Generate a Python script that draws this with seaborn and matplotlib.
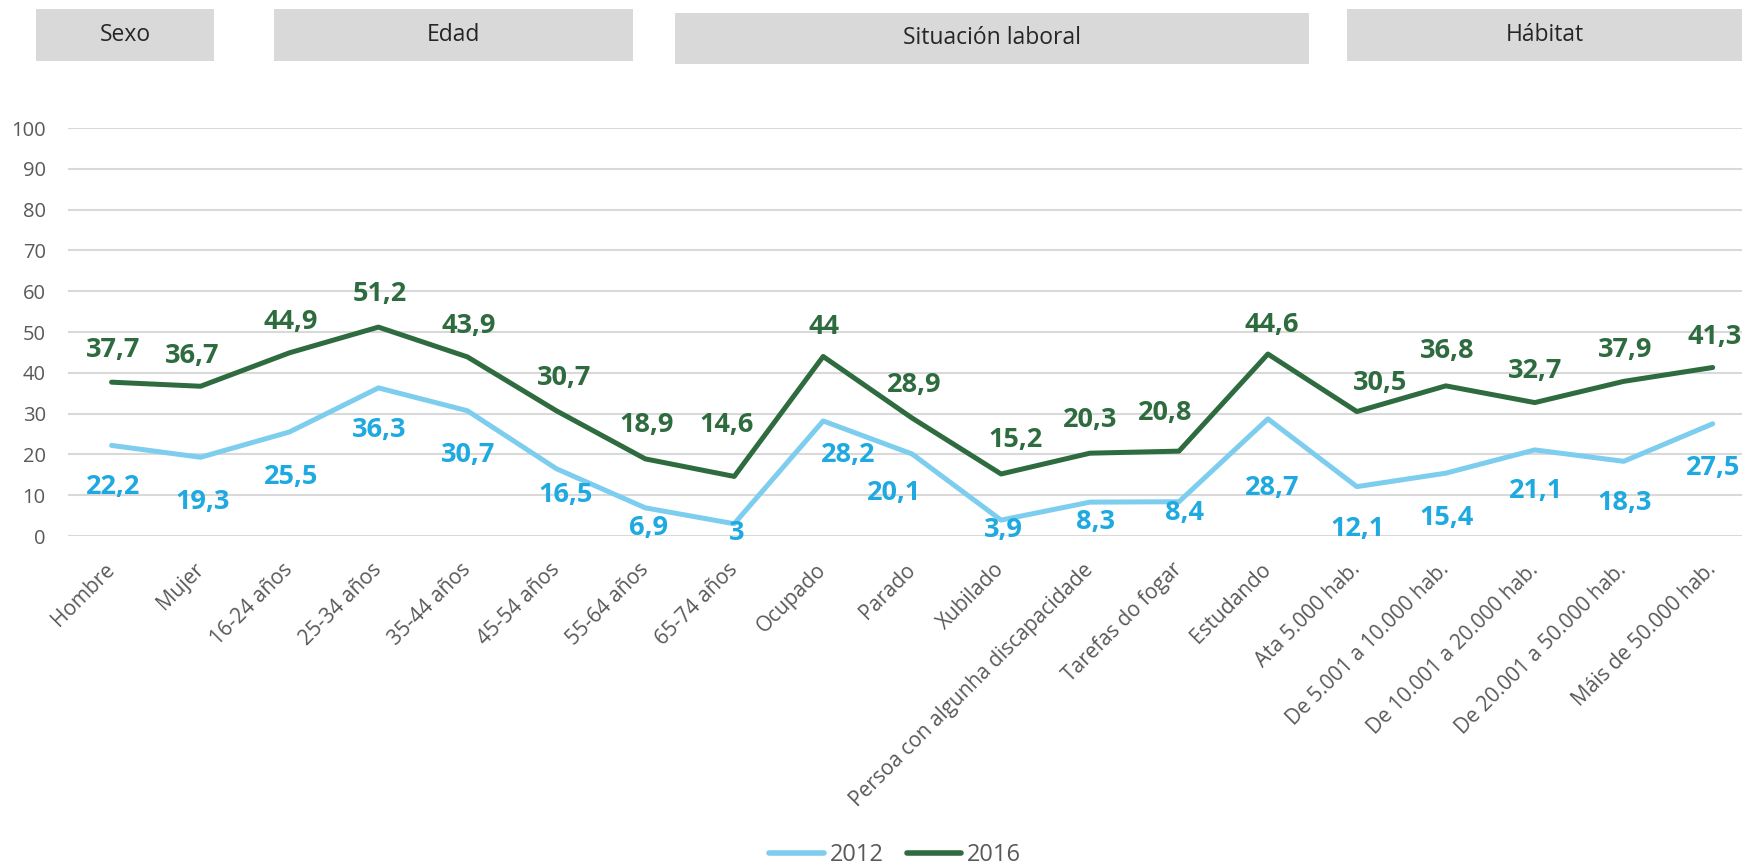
import matplotlib
matplotlib.use("Agg")
import matplotlib.pyplot as plt
from matplotlib.patches import Rectangle
from matplotlib.lines import Line2D
import pandas as pd
import seaborn as sns

# categories on the x axis
categories = ["Hombre", "Mujer", "16-24 años", "25-34 años", "35-44 años",
              "45-54 años", "55-64 años", "65-74 años", "Ocupado", "Parado",
              "Xubilado", "Persoa con algunha discapacidade", "Tarefas do fogar",
              "Estudando", "Ata 5.000 hab.", "De 5.001 a 10.000 hab.",
              "De 10.001 a 20.000 hab.", "De 20.001 a 50.000 hab.",
              "Máis de 50.000 hab."]

values_2012 = [22.2, 19.3, 25.5, 36.3, 30.7, 16.5, 6.9, 3, 28.2, 20.1,
               3.9, 8.3, 8.4, 28.7, 12.1, 15.4, 21.1, 18.3, 27.5]
values_2016 = [37.7, 36.7, 44.9, 51.2, 43.9, 30.7, 18.9, 14.6, 44, 28.9,
               15.2, 20.3, 20.8, 44.6, 30.5, 36.8, 32.7, 37.9, 41.3]

group_names = ["Sexo", "Edad", "Situación laboral", "Hábitat"]

# header boxes in pixels: left, right, top, bottom
group_boxes = [(36, 214, 9, 61), (274, 633, 9, 61),
               (675, 1309, 13, 64), (1347, 1742, 9, 61)]

# data label nudges in pixels (dx, dy), dy > 0 means downwards
nudge_2012 = [(2, 42), (2, 45), (2, 45), (1, 42), (1, 44), (9, 26), (3, 20),
              (2, 9), (25, 34), (-18, 39), (2, 10), (5, 20), (6, 11), (4, 69),
              (1, 42), (1, 45), (1, 41), (1, 42), (0, 44)]
nudge_2016 = [(2, -32), (-8, -30), (1, -31), (1, -33), (1, -31), (8, -33),
              (1, -34), (-8, -51), (1, -29), (2, -33), (14, -34), (0, -33),
              (-14, -38), (4, -29), (23, -29), (1, -35), (0, -32), (1, -31),
              (2, -30)]

c2012_line = "#7dcdef"
c2012_text = "#1ea9e0"
c2016 = "#2e6b3f"
grey = "#595959"

W, H = 1742, 867

sns.set_theme(style="white")
plt.rcParams["font.family"] = ["Open Sans", "DejaVu Sans"]

df = pd.DataFrame({
    "categoria": categories * 2,
    "valor": values_2012 + values_2016,
    "ano": ["2012"] * len(categories) + ["2016"] * len(categories),
})

fig = plt.figure(figsize=(W / 100, H / 100), dpi=100)
ax = fig.add_axes([68 / W, 1 - 536 / H, 1 - 68 / W, (536 - 128) / H])

sns.lineplot(data=df, x="categoria", y="valor", hue="ano",
             palette={"2012": c2012_line, "2016": c2016},
             sort=False, linewidth=3.6, legend=False, ax=ax)
for ln in ax.lines:
    ln.set_solid_capstyle("round")

ax.set_ylim(0, 100)
ax.set_xlim(-0.49, 18.33)
ax.set_yticks(range(0, 101, 10))
ax.yaxis.grid(True, color="#d9d9d9", linewidth=1.5)
ax.xaxis.grid(False)
ax.set_axisbelow(True)
sns.despine(ax=ax, left=True, bottom=True)
ax.set_xlabel("")
ax.set_ylabel("")

ax.set_xticks(range(len(categories)))
ax.set_xticklabels(categories, rotation=45, ha="right", va="center",
                   rotation_mode="anchor", color=grey, fontsize=15)
ax.tick_params(axis="x", length=0, pad=22)
ax.tick_params(axis="y", length=0, pad=16, labelsize=14.5, labelcolor=grey)


def fmt(v):
    return f"{v:g}".replace(".", ",")


for cat, v, (dx, dy) in zip(categories, values_2012, nudge_2012):
    ax.annotate(fmt(v), (cat, v), xytext=(dx * 0.72, -dy * 0.72),
                textcoords="offset points", ha="center", va="center",
                fontsize=19.5, fontweight="bold", color=c2012_text,
                annotation_clip=False)
for cat, v, (dx, dy) in zip(categories, values_2016, nudge_2016):
    ax.annotate(fmt(v), (cat, v), xytext=(dx * 0.72, -dy * 0.72),
                textcoords="offset points", ha="center", va="center",
                fontsize=19.5, fontweight="bold", color=c2016,
                annotation_clip=False)

# grey group headers above the plot
for name, (x0, x1, y0, y1) in zip(group_names, group_boxes):
    fig.add_artist(Rectangle((x0 / W, 1 - y1 / H), (x1 - x0) / W, (y1 - y0) / H,
                             transform=fig.transFigure, color="#d9d9d9", lw=0))
    fig.text((x0 + x1) / 2 / W, 1 - (y0 + y1) / 2 / H, name, ha="center",
             va="center", fontsize=16.5, color="#262626")

handles = [Line2D([], [], color=c2012_line, lw=4, solid_capstyle="round"),
           Line2D([], [], color=c2016, lw=4, solid_capstyle="round")]
fig.legend(handles, ["2012", "2016"], loc="center",
           bbox_to_anchor=(0.514, 1 - 855 / H), ncol=2, frameon=False,
           fontsize=17, labelcolor=grey, handlelength=2.3,
           handletextpad=0.25, columnspacing=1.0)

fig.savefig("out.png", dpi=100)
